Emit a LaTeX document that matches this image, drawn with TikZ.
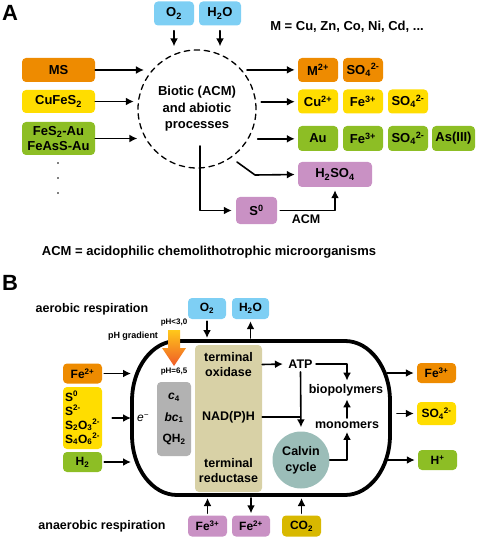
\documentclass[tikz,border=0pt]{standalone}
\usepackage{fontspec}
\setmainfont{Liberation Sans}
\usetikzlibrary{arrows.meta}
\definecolor{cOrange}{HTML}{EE8B00}
\definecolor{cYellow}{HTML}{FFDD00}
\definecolor{cGreen}{HTML}{8DBE25}
\definecolor{cBlue}{HTML}{7ECFF4}
\definecolor{cPurple}{HTML}{C991C4}
\definecolor{cGray}{HTML}{B2B2B2}
\definecolor{cTan}{HTML}{D8D1A6}
\definecolor{cTeal}{HTML}{9BBDB8}
\definecolor{cMustard}{HTML}{D8B800}
\definecolor{cPhTop}{HTML}{FFC81A}
\definecolor{cPhBot}{HTML}{EF5A28}
\begin{document}
\begin{tikzpicture}[x=1pt,y=-1pt,line cap=round,line join=round,>={Latex[length=8pt,width=8pt]},
	every node/.style={font=\bfseries\fontsize{12.5}{15}\selectfont},
	box/.style={rounded corners=4pt,inner sep=0pt,align=center},
	boxA/.style={box,minimum width=40pt,minimum height=24pt,font=\bfseries\fontsize{13}{15}\selectfont},
	boxB/.style={box,minimum width=39pt,minimum height=21pt,font=\bfseries\fontsize{12}{14}\selectfont},
	arr/.style={->,line width=1.6pt},
	big/.style={font=\bfseries\fontsize{22}{22}\selectfont}]
	\useasboundingbox (0,0) rectangle (476,537);
	% panel A
	\node[big] (labA) at (10,13) {A};
	\node[boxA,fill=cBlue] (o2A) at (174,13.5) {O\textsubscript{2}};
	\node[boxA,fill=cBlue,minimum width=42pt] (h2oA) at (220,13.5) {H\textsubscript{2}O};
	\node[font=\bfseries\fontsize{13}{15}\selectfont] (mlist) at (347,27) {M = Cu, Zn, Co, Ni, Cd, ...};
	\node[circle,draw,dashed,dash pattern=on 5.5pt off 4.5pt,line width=1.3pt,minimum size=118pt,inner sep=0pt,align=center,font=\bfseries\fontsize{13}{16.5}\selectfont] (proc) at (197,109) {Biotic (ACM)\\and abiotic\\processes};
	\node[boxA,fill=cOrange,minimum width=73pt] (ms) at (58.5,70) {MS};
	\node[boxA,fill=cYellow,minimum width=73pt,minimum height=23pt] (cufes) at (58.5,101.5) {CuFeS\textsubscript{2}};
	\node[boxA,fill=cGreen,minimum width=73pt,minimum height=33pt] (fesau) at (58.5,138.5) {FeS\textsubscript{2}-Au\\FeAsS-Au};
	\foreach \y in {163,178,193}
		\fill (58,\y) circle (0.9pt);
	\node[boxA,fill=cOrange] (mion) at (318,70) {M\textsuperscript{2+}};
	\node[boxA,fill=cOrange] (so4a) at (363,70) {SO\textsubscript{4}\textsuperscript{2-}};
	\node[boxA,fill=cYellow] (cuion) at (318,101.5) {Cu\textsuperscript{2+}};
	\node[boxA,fill=cYellow] (fe3a) at (363,101.5) {Fe\textsuperscript{3+}};
	\node[boxA,fill=cYellow] (so4b) at (408,101.5) {SO\textsubscript{4}\textsuperscript{2-}};
	\node[boxA,fill=cGreen,minimum height=25pt] (au) at (318,138.5) {Au};
	\node[boxA,fill=cGreen,minimum height=25pt] (fe3b) at (363,138.5) {Fe\textsuperscript{3+}};
	\node[boxA,fill=cGreen,minimum height=25pt] (so4c) at (408,138.5) {SO\textsubscript{4}\textsuperscript{2-}};
	\node[boxA,fill=cGreen,minimum height=25pt,minimum width=43pt] (as3) at (453.5,138.5) {As(III)};
	\node[boxA,fill=cPurple,minimum width=74pt,minimum height=25pt] (h2so4) at (335,174.5) {H\textsubscript{2}SO\textsubscript{4}};
	\node[boxA,fill=cPurple,minimum width=41pt,minimum height=27pt] (s0) at (256.5,210.5) {S\textsuperscript{0}};
	\coordinate (sdown) at (200,146);
	\coordinate (h2start) at (237,162);
	\coordinate (h2bend) at (255,175);
	\draw[arr,shorten <=5pt,shorten >=3pt] (o2A.south) -- (o2A.south |- proc.north);
	\draw[arr,shorten <=5pt,shorten >=3pt] (h2oA.south) -- (h2oA.south |- proc.north);
	\draw[arr,shorten >=8pt] (ms.east) -- (ms.east -| proc.139);
	\draw[arr,shorten >=4pt] (cufes.east) -- (cufes.east -| proc.173);
	\draw[arr,shorten >=8pt] (fesau.east) -- (fesau.east -| proc.210);
	\draw[arr,shorten <=5pt,shorten >=3pt] (proc.41) -- (proc.41 -| mion.west);
	\draw[arr,shorten <=5pt,shorten >=3pt] (proc.7) -- (proc.7 -| cuion.west);
	\draw[arr,shorten <=9pt,shorten >=3pt] (proc.330) -- (proc.330 -| au.west);
	\draw[arr,shorten >=3pt] (h2start) -- (h2bend) -- (h2so4.west);
	\draw[arr,shorten >=4pt] (sdown) |- (s0.west);
	\draw[arr,shorten <=3pt,shorten >=3pt] (s0.east) -| node[pos=0.25,below] (acm) {ACM} (h2so4.south);
	\node[font=\bfseries\fontsize{13}{15}\selectfont] (acmdef) at (209,252) {ACM = acidophilic chemolithotrophic microorganisms};
	% panel B
	\node[big] (labB) at (10,283) {B};
	\node (aerob) at (92,309) {aerobic respiration};
	\node (anaer) at (102,526) {anaerobic respiration};
	\node[boxB,fill=cBlue,minimum width=38pt] (o2B) at (207,308.5) {O\textsubscript{2}};
	\node[boxB,fill=cBlue,minimum width=37pt] (h2oB) at (250.5,308.5) {H\textsubscript{2}O};
	\draw[line width=3.8pt] (177,341) -- (345,341) arc[start angle=-90,end angle=0,x radius=45,y radius=60] -- (390,435) arc[start angle=0,end angle=90,x radius=45,y radius=60] -- (177,495) arc[start angle=90,end angle=180,x radius=45,y radius=60] -- (132,401) arc[start angle=180,end angle=270,x radius=45,y radius=60] -- cycle;
	\coordinate (cellN) at (0,338);
	\coordinate (cellS) at (0,498);
	\coordinate (cellW) at (131,418);
	\coordinate (cellE) at (387,418);
	\shade[top color=cPhTop,bottom color=cPhBot] (168,330) -- (180,330) -- (180,348) -- (186,348) -- (174,366) -- (162,348) -- (168,348) -- cycle;
	\node[font=\bfseries\fontsize{8}{8}\selectfont] (phlow) at (174,323) {pH<3,0};
	\node[font=\bfseries\fontsize{8}{8}\selectfont] (phhigh) at (174,372) {pH=6,5};
	\node[font=\bfseries\fontsize{9}{9}\selectfont] (phgrad) at (133,336) {pH gradient};
	\node[box,fill=cGray,minimum width=34pt,minimum height=74pt,font=\bfseries\fontsize{12}{21.5}\selectfont] (quin) at (174,419) {\textit{c}\textsubscript{4}\\\textit{bc}\textsubscript{1}\\QH\textsubscript{2}};
	\node[font=\itshape\fontsize{12}{12}\selectfont] (elec) at (143,418) {e\textsuperscript{−}};
	\node[box,fill=cTan,minimum width=67pt,minimum height=147pt] (enz) at (228.5,418.5) {};
	\node[align=center] (tox) at (228.5,364.5) {terminal\\oxidase};
	\node (nadph) at (228.5,417) {NAD(P)H};
	\node[align=center] (tred) at (228.5,470.5) {terminal\\reductase};
	\node (atp) at (300.5,364) {ATP};
	\node (biopol) at (346,390) {biopolymers};
	\node (monom) at (347,425) {monomers};
	\node[circle,fill=cTeal,minimum size=57pt,inner sep=0pt,align=center,font=\bfseries\fontsize{12.5}{16}\selectfont] (calvin) at (301,460) {Calvin\\cycle};
	\draw[arr,shorten >=2pt] (tox.east -| enz.east) -- (atp.west);
	\draw[arr] (atp.east) -| (monom.north |- biopol.north);
	\draw[arr,shorten >=4pt] (atp.south) -- (calvin.north);
	\draw[line width=1.6pt] (nadph.east -| enz.east) -- (nadph.east -| atp.south);
	\draw[arr] (monom.north) -- (monom.north |- biopol.south);
	\draw[arr] (calvin.east) -| (monom.south);
	\node[boxB,fill=cOrange,minimum height=20pt] (fe2in) at (82.5,373.5) {Fe\textsuperscript{2+}};
	\node[boxB,fill=cYellow,minimum height=62pt,align=left,font=\bfseries\fontsize{12}{14}\selectfont] (sulf) at (82.5,418) {S\textsuperscript{0}\\S\textsuperscript{2-}\\S\textsubscript{2}O\textsubscript{3}\textsuperscript{2-}\\S\textsubscript{4}O\textsubscript{6}\textsuperscript{2-}};
	\node[boxB,fill=cGreen,minimum height=20pt] (h2in) at (82.5,462) {H\textsubscript{2}};
	\node[boxB,fill=cOrange,minimum height=20pt] (fe3out) at (436.5,373) {Fe\textsuperscript{3+}};
	\node[boxB,fill=cYellow,minimum height=23pt] (so4out) at (436.5,413.5) {SO\textsubscript{4}\textsuperscript{2-}};
	\node[boxB,fill=cGreen,minimum height=20pt] (hout) at (437.5,460) {H\textsuperscript{+}};
	\node[boxB,fill=cPurple] (fe3in) at (207.5,526) {Fe\textsuperscript{3+}};
	\node[boxB,fill=cPurple,minimum width=38pt] (fe2out) at (251,526) {Fe\textsuperscript{2+}};
	\node[boxB,fill=cMustard] (co2) at (301.5,526) {CO\textsubscript{2}};
	\draw[arr,shorten <=2pt] (o2B.south) -- (o2B.south |- cellN);
	\draw[arr,shorten >=2pt] (h2oB.south |- cellN) -- (h2oB.south);
	\draw[arr,shorten <=2pt] (fe2in.east) -- (fe2in.east -| cellW);
	\draw[arr,shorten <=10pt] (sulf.east) -- (sulf.east -| cellW);
	\draw[arr,shorten <=2pt] (h2in.east) -- (h2in.east -| cellW);
	\draw[arr,shorten >=3pt] (fe3out.west -| cellE) -- (fe3out.west);
	\draw[arr,shorten <=10pt,shorten >=3pt] (so4out.west -| cellE) -- (so4out.west);
	\draw[arr,shorten >=3pt] (hout.west -| cellE) -- (hout.west);
	\draw[arr,shorten <=2pt] (fe3in.north) -- (fe3in.north |- cellS);
	\draw[arr,shorten >=2pt] (fe2out.north |- cellS) -- (fe2out.north);
	\draw[arr,shorten <=2pt] (co2.north) -- (co2.north |- cellS);
\end{tikzpicture}
\end{document}
